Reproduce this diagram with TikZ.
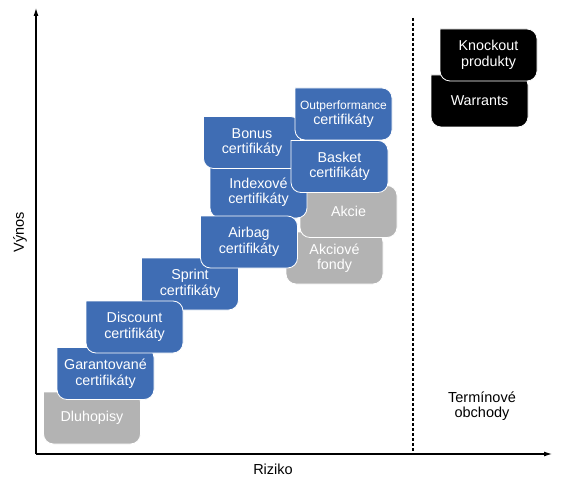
\documentclass[tikz,border=0pt]{standalone}
\usepackage{fontspec}
\setmainfont{Liberation Sans}
\usetikzlibrary{arrows.meta}
\definecolor{boxblue}{HTML}{3F6DB4}
\definecolor{boxgray}{HTML}{B3B3B3}
\definecolor{boxblack}{HTML}{000000}
\tikzset{
  boxframe/.style={draw=white, line width=0.8pt, rounded corners=10pt, line cap=rect},
  boxtext/.style={text=white, align=center, font=\fontsize{14.3}{15.5}\selectfont, inner sep=0pt},
  lbl/.style={text=black, align=center, font=\fontsize{14.5}{15.5}\selectfont, inner sep=0pt},
  axis/.style={line width=1.1pt, -{Latex[length=8pt,width=5pt]}},
}
\newcommand\prodbox[5]{%
  \draw[boxframe, fill=#4, shift={(#2,#3)}] (-48.5,-26) -- (48.5,-26) -- (48.5,26) -- (-48.5,26) -- (-48.5,-26);
  \node[boxtext] (#1) at (#2,#3) {#5};}
\begin{document}
\begin{tikzpicture}[x=1pt,y=-1pt]
\useasboundingbox (0,0) rectangle (572,489);
% axes
\coordinate (origin) at (36,454);
\coordinate (ytip) at (36,8);
\coordinate (xtip) at (552,454);
\coordinate (dtop) at (413,18);
\coordinate (dbot) at (413,454);
\draw[line width=1.1pt, dash pattern=on 3pt off 2pt] (dtop) -- (dbot);
\draw[axis] (origin) -- (ytip);
\draw[axis] (origin) -- (xtip);
% boxes
\prodbox{dluhopisy}{92}{418}{boxgray}{Dluhopisy}
\prodbox{garant}{105.5}{373.5}{boxblue}{Garantované\\certifikáty}
\prodbox{sprint}{190}{284}{boxblue}{Sprint\\certifikáty}
\prodbox{discount}{134.5}{327}{boxblue}{Discount\\certifikáty}
\prodbox{fondy}{334.5}{258}{boxgray}{Akciové\\fondy}
\prodbox{akcie}{348.5}{211.5}{boxgray}{Akcie}
\prodbox{indexove}{258.5}{192}{boxblue}{Indexové\\certifikáty}
\prodbox{airbag}{249}{242}{boxblue}{Airbag\\certifikáty}
\prodbox{bonus}{252}{142.5}{boxblue}{Bonus\\certifikáty}
\prodbox{outperf}{343.5}{114}{boxblue}{{\fontsize{12}{15.5}\selectfont Outperformance}\\certifikáty}
\prodbox{basket}{339.5}{166.5}{boxblue}{Basket\\certifikáty}
\prodbox{warrants}{479.5}{101}{boxblack}{Warrants}
\prodbox{knockout}{488.5}{55}{boxblack}{Knockout\\produkty}
% labels
\node[lbl, rotate=90] (vynos) at (20,232) {Výnos};
\node[lbl] (riziko) at (273,469) {Riziko};
\node[lbl] (terminove) at (482,406) {Termínové\\obchody};
\end{tikzpicture}
\end{document}
